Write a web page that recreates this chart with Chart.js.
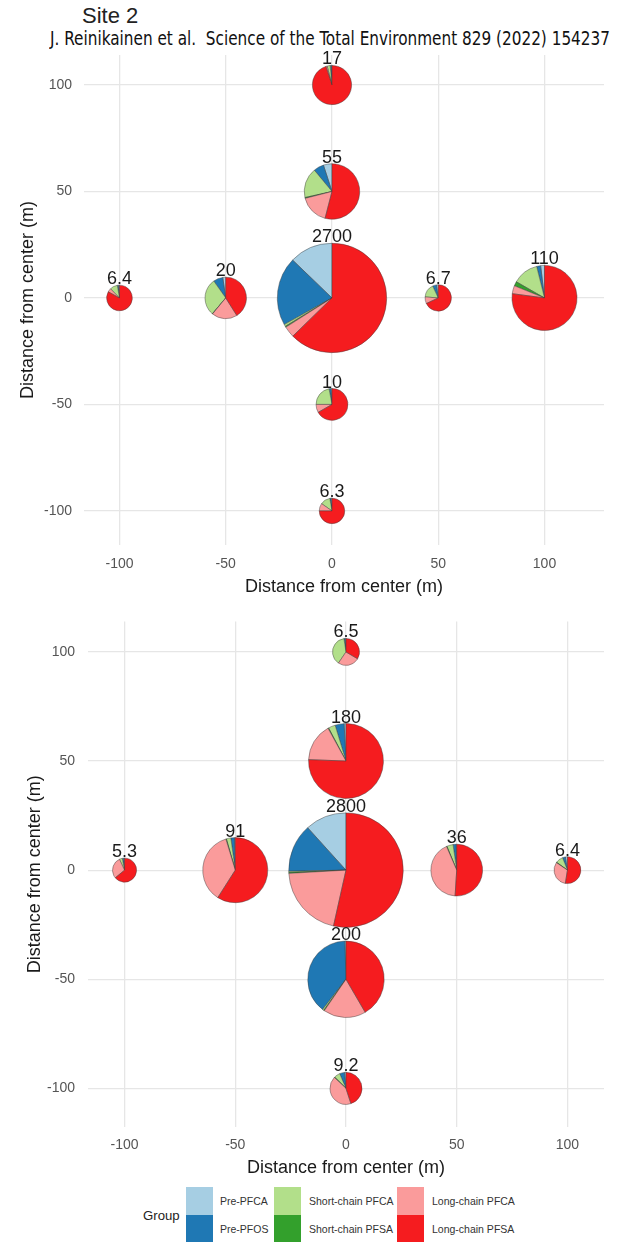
<!DOCTYPE html>
<html>
<head>
<meta charset="utf-8">
<script src="https://cdn.jsdelivr.net/npm/chart.js@4.4.1/dist/chart.umd.min.js"></script>
<style>
  html, body { margin: 0; padding: 0; background: #fff; }
  body { position: relative; width: 624px; height: 1242px; overflow: hidden;
         font-family: "Liberation Sans", Arial, sans-serif; }
  #siteTitle { position: absolute; left: 82px; top: 3px; font-size: 22px; color: #222; line-height: 26px; }
  #cite { position: absolute; left: 50px; top: 27px; font-size: 20px; line-height: 22px; color: #111;
          font-family: "Liberation Sans Narrow", "DejaVu Sans Condensed", "Liberation Sans", sans-serif;
          white-space: nowrap; transform-origin: 0 0; }
  canvas { position: absolute; left: 0; }
  #c1 { top: 0; }
  #c2 { top: 600px; }
  .lg-title { position: absolute; left: 143px; top: 1208px; font-size: 13.2px; color: #222; }
  .lg-box { position: absolute; width: 27px; height: 28px; }
  .lg-text { position: absolute; font-size: 10.5px; color: #333; line-height: 12px; }
</style>
</head>
<body>
<div id="siteTitle">Site 2</div>
<div id="cite">J. Reinikainen et al.&nbsp; Science of the Total Environment 829 (2022) 154237</div>
<canvas id="c1" width="624" height="600"></canvas>
<canvas id="c2" width="624" height="585"></canvas>
<div id="legend"></div>

<script>
// Compound groups, in the order they appear in the legend and around each pie
const groups = ['Pre-PFCA', 'Pre-PFOS', 'Short-chain PFCA', 'Short-chain PFSA', 'Long-chain PFCA', 'Long-chain PFSA'];
const groupColors = ['#a6cee3', '#1f78b4', '#b2df8a', '#33a02c', '#fa9b9b', '#f51c1f'];

const xTicks = [-100, -50, 0, 50, 100];
const yTicks = [-100, -50, 0, 50, 100];

// Sampling points: north 100, north 50, centre, west 100, west 50, east 50, east 100, south 50, south 100
const siteX = [0, 0, 0, -100, -50, 50, 100, 0, 0];
const siteY = [100, 50, 0, 0, 0, 0, 0, -50, -100];

// Upper panel: total concentration and share (%) of each group
const totalA     = [17, 55, 2700, 6.4, 20, 6.7, 110, 10, 6.3];
const prePFCA_A  = [0.5, 5, 12.8, 1.4, 2.3, 2.3, 1.9, 1, 1.3];
const prePFOS_A  = [1, 6, 20.3, 1.4, 7.5, 4.7, 2, 2, 1.5];
const shortPFCA_A = [2.5, 17.5, 0.6, 9.5, 29, 16.7, 12.8, 22, 12.5];
const shortPFSA_A = [0, 0.5, 0.3, 0, 0.2, 0, 2.2, 0, 0];
const longPFCA_A = [1, 17, 3.3, 4.7, 20, 8.3, 4, 8.3, 9.7];
const longPFSA_A = [95, 54, 62.7, 83, 41, 68, 77.1, 66.7, 75];

// Lower panel
const totalB     = [6.5, 180, 2800, 5.3, 91, 36, 6.4, 200, 9.2];
const prePFCA_B  = [1, 0.8, 11.7, 1, 0.4, 0.4, 2.5, 0.5, 1.5];
const prePFOS_B  = [1.5, 3.9, 13.6, 2, 1.8, 1.9, 3.5, 39, 5];
const shortPFCA_B = [38, 3, 0.3, 4, 2.2, 3.9, 9, 0.6, 6];
const shortPFSA_B = [0, 0.3, 0.3, 0, 0.3, 0.3, 0.5, 0.3, 0.5];
const longPFCA_B = [26, 16.4, 20.6, 29, 36.3, 42.5, 32, 18, 42];
const longPFSA_B = [33.5, 75.6, 53.5, 64, 59, 51, 52.5, 41.6, 45];

const axisTitle = 'Distance from center (m)';

// Pie radius in axis units grows with the log of the total
function pieRadius(total) { return 7.5 * Math.log10(total); }

// Draws a pie chart at every point of the dataset, sized and placed by the chart's scales
const scatterPies = {
  id: 'scatterPies',
  afterDatasetsDraw(chart, args, opts) {
    const ctx = chart.ctx;
    const meta = chart.getDatasetMeta(0);
    const xs = chart.scales.x;
    const shares = opts.shares;
    const totals = opts.totals;
    ctx.save();
    meta.data.forEach((pt, i) => {
      const cx = pt.x, cy = pt.y;
      const r = xs.getPixelForValue(pieRadius(totals[i])) - xs.getPixelForValue(0);
      const parts = shares.map(s => s[i]);
      const sum = parts.reduce((a, b) => a + b, 0);
      let a0 = -Math.PI / 2;
      parts.forEach((p, g) => {
        if (p <= 0) return;
        const a1 = a0 - (p / sum) * Math.PI * 2;
        ctx.beginPath();
        ctx.moveTo(cx, cy);
        ctx.arc(cx, cy, r, a0, a1, true);
        ctx.closePath();
        ctx.fillStyle = groupColors[g];
        ctx.fill();
        ctx.lineWidth = 0.6;
        ctx.strokeStyle = 'rgba(60,60,60,0.75)';
        ctx.stroke();
        a0 = a1;
      });
      ctx.fillStyle = '#1a1a1a';
      ctx.font = '18px "Liberation Sans", Arial, sans-serif';
      ctx.textAlign = 'center';
      ctx.textBaseline = 'alphabetic';
      ctx.fillText(String(totals[i]), cx, cy - r - 1);
    });
    ctx.restore();
  }
};

function makePanel(canvasId, totals, shares, geo) {
  const points = siteX.map((x, i) => ({ x: x, y: siteY[i] }));
  return new Chart(document.getElementById(canvasId), {
    type: 'scatter',
    data: { datasets: [{ data: points, pointRadius: 0, pointHoverRadius: 0 }] },
    plugins: [scatterPies],
    options: {
      responsive: false,
      animation: false,
      devicePixelRatio: 1,
      layout: { padding: geo.padding },
      plugins: {
        legend: { display: false },
        tooltip: { enabled: false },
        scatterPies: { totals: totals, shares: shares }
      },
      scales: {
        x: {
          type: 'linear', min: geo.xRange[0], max: geo.xRange[1],
          afterBuildTicks: ax => { ax.ticks = xTicks.map(v => ({ value: v })); },
          afterFit: ax => { ax.height = geo.xAxisHeight; },
          grid: { color: '#e6e6e6', lineWidth: 1.3, drawTicks: false },
          border: { display: false },
          ticks: { color: '#555', padding: geo.xTickPad, font: { size: 14, family: '"Liberation Sans", Arial, sans-serif' } },
          title: { display: true, text: axisTitle, color: '#1a1a1a', padding: { top: 0, bottom: geo.xTitlePad },
                   font: { size: 18, family: '"Liberation Sans", Arial, sans-serif' } }
        },
        y: {
          type: 'linear', min: geo.yRange[0], max: geo.yRange[1],
          afterBuildTicks: ax => { ax.ticks = yTicks.map(v => ({ value: v })); },
          afterFit: ax => { ax.width = geo.yAxisWidth; },
          grid: { color: '#e6e6e6', lineWidth: 1.3, drawTicks: false },
          border: { display: false },
          ticks: { color: '#555', padding: geo.yTickPad, font: { size: 14, family: '"Liberation Sans", Arial, sans-serif' } },
          title: { display: true, text: axisTitle, color: '#1a1a1a', padding: { top: 0, bottom: 0 },
                   font: { size: 18, family: '"Liberation Sans", Arial, sans-serif' } }
        }
      }
    }
  });
}

makePanel('c1', totalA,
  [prePFCA_A, prePFOS_A, shortPFCA_A, shortPFSA_A, longPFCA_A, longPFSA_A],
  { padding: { left: 17, right: 20, top: 55, bottom: 0 }, yAxisWidth: 67, xAxisHeight: 55,
    xRange: [-116.7, 128], yRange: [-116, 114.1], xTickPad: 11, yTickPad: 12, xTitlePad: 2 });

makePanel('c2', totalB,
  [prePFCA_B, prePFOS_B, shortPFCA_B, shortPFSA_B, longPFCA_B, longPFSA_B],
  { padding: { left: 24, right: 20, top: 17, bottom: 0 }, yAxisWidth: 64, xAxisHeight: 58,
    xRange: [-116.5, 116.5], yRange: [-117.7, 114], xTickPad: 10, yTickPad: 13, xTitlePad: 6 });

// Legend: two rows of three colour keys
(function buildLegend() {
  const lg = document.getElementById('legend');
  const t = document.createElement('div');
  t.className = 'lg-title'; t.textContent = 'Group';
  lg.appendChild(t);
  const colBox = [186, 274, 397];
  const colText = [220, 309, 432];
  const rowTop = [1187, 1215];
  groups.forEach((g, i) => {
    const col = Math.floor(i / 2), row = i % 2;
    const b = document.createElement('div');
    b.className = 'lg-box';
    b.style.left = colBox[col] + 'px';
    b.style.top = rowTop[row] + 'px';
    b.style.background = groupColors[i];
    lg.appendChild(b);
    const s = document.createElement('div');
    s.className = 'lg-text';
    s.textContent = g;
    s.style.left = colText[col] + 'px';
    s.style.top = (rowTop[row] + 8) + 'px';
    lg.appendChild(s);
  });
})();

// Fit the citation line to its width
(function fitCite() {
  const el = document.getElementById('cite');
  const w = el.getBoundingClientRect().width;
  el.style.transform = 'scaleX(' + (560 / w) + ')';
})();
</script>
</body>
</html>
